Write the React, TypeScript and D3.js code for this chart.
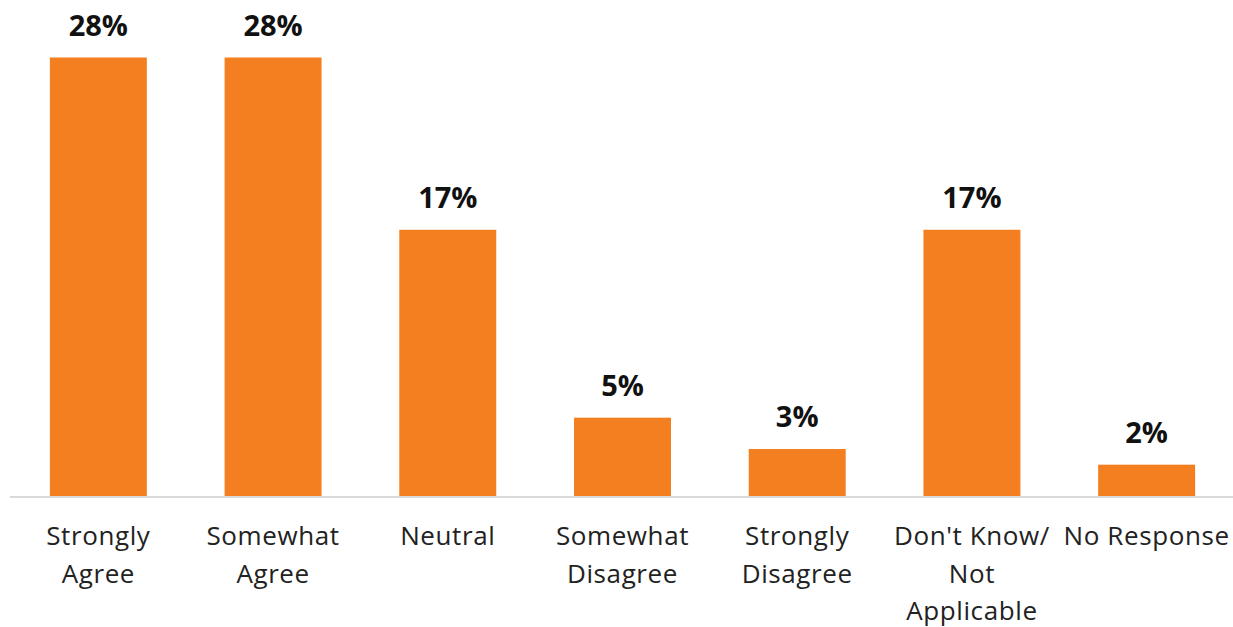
import React from "react";
import * as d3 from "d3";

const categories: string[] = [
  "Strongly Agree",
  "Somewhat Agree",
  "Neutral",
  "Somewhat Disagree",
  "Strongly Disagree",
  "Don't Know/ Not Applicable",
  "No Response",
];
const categoryLines: string[][] = [
  ["Strongly", "Agree"],
  ["Somewhat", "Agree"],
  ["Neutral"],
  ["Somewhat", "Disagree"],
  ["Strongly", "Disagree"],
  ["Don't Know/", "Not", "Applicable"],
  ["No Response"],
];
const values: number[] = [28, 28, 17, 5, 3, 17, 2];

const W = 1233;
const H = 627;
const baseY = 496;

export default function App() {
  const x = d3
    .scaleBand<string>()
    .domain(categories)
    .range([11, 1234])
    .paddingInner(0.445)
    .paddingOuter(0.2225);
  const y = d3.scaleLinear().domain([0, 28]).range([baseY, 57.5]);

  return (
    <svg
      width={W}
      height={H}
      style={{ position: "absolute", left: 0, top: 0, display: "block", background: "#fff" }}
    >
      {categories.map((c, i) => {
        const bx = x(c)!;
        const bw = x.bandwidth();
        const top = y(values[i]);
        return (
          <g key={c}>
            <rect x={bx} y={top} width={bw} height={baseY - top} fill="#F47F20" />
            <text
              x={bx + bw / 2}
              y={top - 22}
              textAnchor="middle"
              fontFamily="'Open Sans', sans-serif"
              fontWeight="bold"
              fontSize={29}
              fill="#111"
            >
              {values[i]}%
            </text>
            {categoryLines[i].map((ln, j) => (
              <text
                key={j}
                x={bx + bw / 2}
                y={545 + j * 37.5}
                textAnchor="middle"
                fontFamily="'Open Sans', sans-serif"
                fontSize={26}
                letterSpacing={0.6}
                fill="#222"
              >
                {ln}
              </text>
            ))}
          </g>
        );
      })}
      <line x1={10} x2={W} y1={baseY + 1} y2={baseY + 1} stroke="#d9d9d9" strokeWidth={2} />
    </svg>
  );
}
